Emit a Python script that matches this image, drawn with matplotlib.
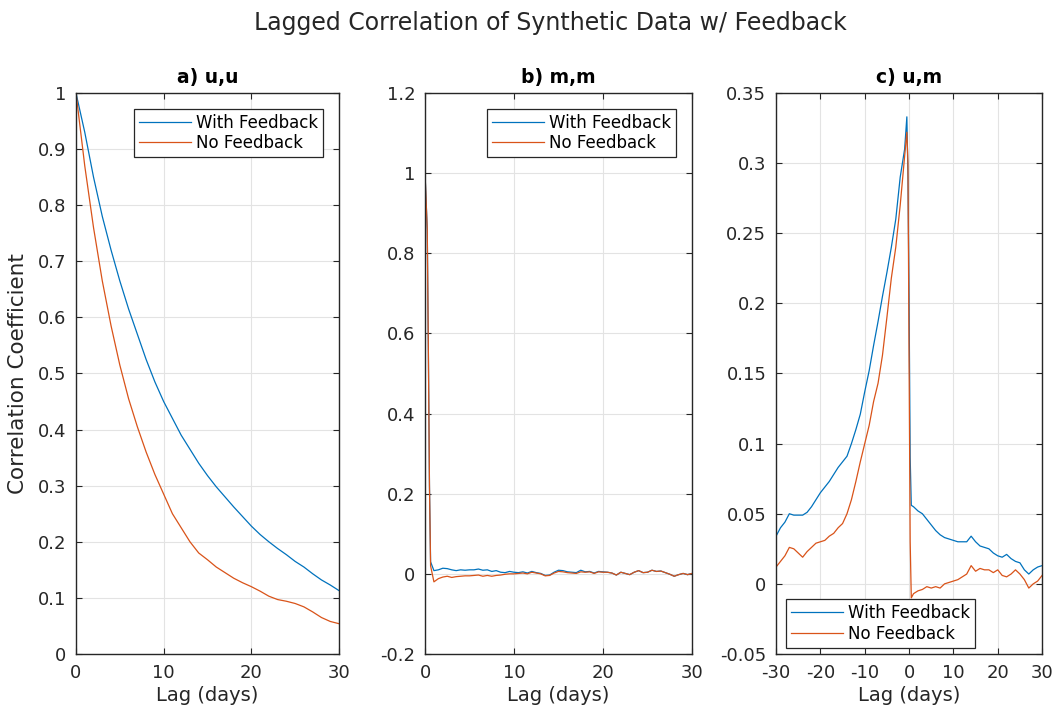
import numpy as np
import matplotlib
matplotlib.use('Agg')
import matplotlib.pyplot as plt
from matplotlib import rcParams

rcParams['font.family'] = 'DejaVu Sans'
rcParams['font.size'] = 12

BLUE = '#0072BD'
RED = '#D95319'
INK = '#262626'

# ---- a) u,u  (lag in days)
lag_a = list(range(0, 31))
uu_fb = [1.0, 0.93, 0.85, 0.78, 0.72, 0.665, 0.615, 0.57, 0.525, 0.485, 0.45,
         0.42, 0.39, 0.365, 0.34, 0.318, 0.298, 0.28, 0.262, 0.245, 0.228,
         0.213, 0.2, 0.188, 0.177, 0.165, 0.155, 0.143, 0.132, 0.123, 0.113]
uu_nofb = [1.0, 0.87, 0.76, 0.665, 0.585, 0.515, 0.455, 0.405, 0.36, 0.32, 0.285,
           0.25, 0.225, 0.2, 0.18, 0.168, 0.155, 0.145, 0.135, 0.127, 0.12,
           0.112, 0.103, 0.097, 0.094, 0.09, 0.084, 0.075, 0.065, 0.058, 0.054]

# ---- b) m,m
lag_b = [0, 0.25, 0.375, 0.5, 0.625] + [1 + 0.5 * i for i in range(59)]
mm_fb = [1.0, 0.86, 0.56, 0.22, 0.03,
         0.008, 0.01, 0.014, 0.013, 0.01, 0.008, 0.01, 0.009, 0.01, 0.01,
         0.012, 0.009, 0.01, 0.006, 0.008, 0.004, 0.003, 0.006, 0.004, 0.003,
         0.005, 0.002, 0.006, 0.003, 0.001, -0.004, -0.003, 0.004, 0.009, 0.008,
         0.005, 0.004, 0.003, 0.009, 0.005, 0.006, 0.002, 0.006, 0.005, 0.004,
         0.002, -0.003, 0.004, 0.001, -0.002, 0.004, 0.008, 0.003, 0.004, 0.009,
         0.006, 0.007, 0.003, -0.001, -0.006, -0.002, 0.001, -0.002, 0.001]
mm_nofb = [1.0, 0.86, 0.56, 0.22, 0.02,
           -0.02, -0.012, -0.008, -0.006, -0.009, -0.007, -0.006, -0.005, -0.005, -0.004,
           -0.003, -0.006, -0.004, -0.006, -0.004, -0.003, -0.001, 0.0, 0.0, 0.001,
           0.002, 0.0, 0.004, 0.002, 0.0, -0.005, -0.004, 0.002, 0.006, 0.005,
           0.003, 0.002, 0.001, 0.005, 0.004, 0.005, 0.001, 0.005, 0.004, 0.004,
           0.002, -0.003, 0.004, 0.001, -0.002, 0.004, 0.008, 0.003, 0.004, 0.009,
           0.006, 0.007, 0.003, -0.001, -0.006, -0.002, 0.001, -0.002, 0.001]

# ---- c) u,m
lag_c = list(range(-30, 0)) + [-0.5, -0.25, 0, 0.25, 0.5] + list(range(1, 31))
um_fb = [0.034, 0.04, 0.044, 0.05, 0.049, 0.049, 0.049, 0.051, 0.055, 0.06,
         0.065, 0.069, 0.073, 0.078, 0.083, 0.087, 0.091, 0.1, 0.11, 0.121,
         0.137, 0.152, 0.17, 0.187, 0.205, 0.222, 0.24, 0.26, 0.29, 0.31,
         0.333, 0.29, 0.2, 0.09, 0.056,
         0.055, 0.052, 0.05, 0.046, 0.042, 0.038, 0.035, 0.033, 0.032, 0.031,
         0.03, 0.03, 0.03, 0.034, 0.03, 0.027, 0.026, 0.025, 0.022, 0.02,
         0.019, 0.021, 0.018, 0.016, 0.015, 0.01, 0.007, 0.01, 0.012, 0.013]
um_nofb = [0.012, 0.016, 0.02, 0.026, 0.025, 0.022, 0.019, 0.023, 0.026, 0.029,
           0.03, 0.031, 0.034, 0.036, 0.04, 0.043, 0.05, 0.06, 0.073, 0.087,
           0.1, 0.113, 0.13, 0.143, 0.163, 0.19, 0.218, 0.24, 0.27, 0.305,
           0.322, 0.3, 0.16, 0.03, -0.01,
           -0.007, -0.005, -0.004, -0.002, -0.003, -0.002, -0.003, 0.0, 0.001, 0.002,
           0.003, 0.005, 0.007, 0.013, 0.009, 0.011, 0.01, 0.01, 0.008, 0.01,
           0.006, 0.005, 0.007, 0.01, 0.007, 0.003, -0.003, 0.0, 0.002, 0.006]

labels = ['With Feedback', 'No Feedback']

fig = plt.figure(figsize=(10.57, 7.11), dpi=100)
ax_a = fig.add_axes([0.0719, 0.0802, 0.2488, 0.789])
ax_b = fig.add_axes([0.4021, 0.0802, 0.2526, 0.789])
ax_c = fig.add_axes([0.7342, 0.0802, 0.2517, 0.789])


def style(ax):
    ax.grid(True, color='#e3e3e3', lw=0.8)
    ax.set_axisbelow(True)
    for s in ax.spines.values():
        s.set_color(INK)
        s.set_linewidth(1.0)
    ax.tick_params(direction='in', top=True, right=True, length=4,
                   color=INK, labelcolor=INK, labelsize=13, pad=7)


ax_a.plot(lag_a, uu_fb, color=BLUE, lw=0.9, label=labels[0])
ax_a.plot(lag_a, uu_nofb, color=RED, lw=0.9, label=labels[1])
ax_a.set_xlim(0, 30)
ax_a.set_ylim(0, 1)
ax_a.set_xticks([0, 10, 20, 30])
ax_a.set_yticks(np.arange(0, 1.01, 0.1))
ax_a.set_yticklabels(['0', '0.1', '0.2', '0.3', '0.4', '0.5', '0.6', '0.7', '0.8', '0.9', '1'])
ax_a.set_title('a) u,u', fontweight='bold', fontsize=13.5, color='black', pad=7)
ax_a.set_xlabel('Lag (days)', fontsize=14, color=INK, labelpad=3)
ax_a.set_ylabel('Correlation Coefficient', fontsize=15.5, color=INK, labelpad=7)

ax_b.plot(lag_b, mm_fb, color=BLUE, lw=0.9, label=labels[0])
ax_b.plot(lag_b, mm_nofb, color=RED, lw=0.9, label=labels[1])
ax_b.set_xlim(0, 30)
ax_b.set_ylim(-0.2, 1.2)
ax_b.set_xticks([0, 10, 20, 30])
ax_b.set_yticks([-0.2, 0, 0.2, 0.4, 0.6, 0.8, 1.0, 1.2])
ax_b.set_yticklabels(['-0.2', '0', '0.2', '0.4', '0.6', '0.8', '1', '1.2'])
ax_b.set_title('b) m,m', fontweight='bold', fontsize=13.5, color='black', pad=7)
ax_b.set_xlabel('Lag (days)', fontsize=14, color=INK, labelpad=3)

ax_c.plot(lag_c, um_fb, color=BLUE, lw=0.9, label=labels[0])
ax_c.plot(lag_c, um_nofb, color=RED, lw=0.9, label=labels[1])
ax_c.set_xlim(-30, 30)
ax_c.set_ylim(-0.05, 0.35)
ax_c.set_xticks([-30, -20, -10, 0, 10, 20, 30])
ax_c.set_xticklabels(['-30', '-20', '-10', '0', '10', '20', '30'])
ax_c.set_yticks([-0.05, 0, 0.05, 0.1, 0.15, 0.2, 0.25, 0.3, 0.35])
ax_c.set_yticklabels(['-0.05', '0', '0.05', '0.1', '0.15', '0.2', '0.25', '0.3', '0.35'])
ax_c.set_title('c) u,m', fontweight='bold', fontsize=13.5, color='black', pad=7)
ax_c.set_xlabel('Lag (days)', fontsize=14, color=INK, labelpad=3)

leg_kw = dict(fontsize=12, fancybox=False, framealpha=1, edgecolor=INK,
              handlelength=3.1, handletextpad=0.3, borderpad=0.3,
              labelspacing=0.15)
for ax in (ax_a, ax_b):
    style(ax)
    leg = ax.legend(loc='upper right', borderaxespad=0.95, **leg_kw)
    leg.get_frame().set_linewidth(0.9)
style(ax_c)
leg = ax_c.legend(loc='lower left', bbox_to_anchor=(0.037, 0.011),
                  borderaxespad=0, **leg_kw)
leg.get_frame().set_linewidth(0.9)

fig.suptitle('Lagged Correlation of Synthetic Data w/ Feedback', fontsize=17,
             x=0.521, y=0.985, color=INK)

fig.savefig('out.png', dpi=100)
